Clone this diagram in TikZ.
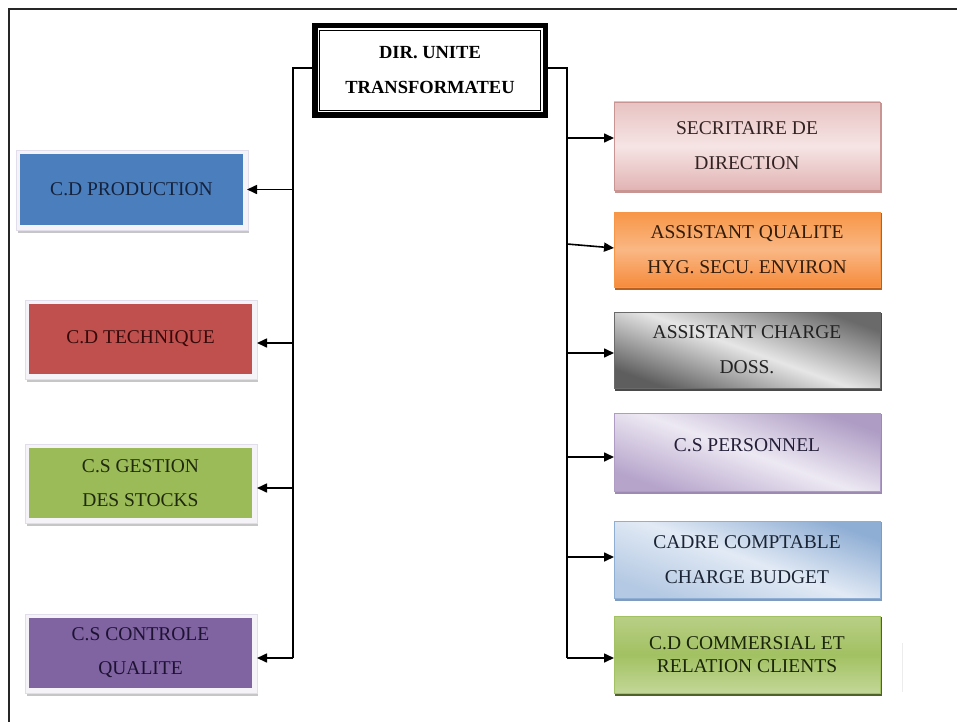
\documentclass[tikz,border=0pt]{standalone}
\usepackage{fontspec}
\setmainfont{Liberation Serif}
\usetikzlibrary{arrows.meta}
\pgfdeclarelayer{background}
\pgfsetlayers{background,main}
\definecolor{blueF}{HTML}{4A7EBC}
\definecolor{blueT}{HTML}{15223D}
\definecolor{redF}{HTML}{C0504D}
\definecolor{redT}{HTML}{360A0A}
\definecolor{greenF}{HTML}{9BBB59}
\definecolor{greenT}{HTML}{1F2A0C}
\definecolor{purpF}{HTML}{8064A2}
\definecolor{purpT}{HTML}{1E1233}
\definecolor{glow}{HTML}{F5F3F8}
\definecolor{glowedge}{HTML}{E2DDEA}
% right box colours
\definecolor{pinkA}{HTML}{E8C2C2}
\definecolor{pinkB}{HTML}{F6E4E4}
\definecolor{pinkC}{HTML}{E2B4B4}
\definecolor{pinkD}{HTML}{C99593}
\definecolor{pinkT}{HTML}{332222}
\definecolor{orA}{HTML}{F79646}
\definecolor{orB}{HTML}{FAB784}
\definecolor{orC}{HTML}{F68B3C}
\definecolor{orD}{HTML}{B8601F}
\definecolor{orT}{HTML}{331C0A}
\definecolor{grA}{HTML}{6A6A6A}
\definecolor{grB}{HTML}{E6E6E6}
\definecolor{grC}{HTML}{5E5E5E}
\definecolor{grD}{HTML}{4A4A4A}
\definecolor{grT}{HTML}{222222}
\definecolor{laA}{HTML}{AE9CC4}
\definecolor{laB}{HTML}{EDE9F3}
\definecolor{laC}{HTML}{B6A4CB}
\definecolor{laD}{HTML}{9C8AB2}
\definecolor{laT}{HTML}{241E38}
\definecolor{lbA}{HTML}{8FAED4}
\definecolor{lbB}{HTML}{E2EAF5}
\definecolor{lbC}{HTML}{B4C9E3}
\definecolor{lbD}{HTML}{7F9CC0}
\definecolor{lbT}{HTML}{1A2434}
\definecolor{gnA}{HTML}{B8CF86}
\definecolor{gnB}{HTML}{A2C162}
\definecolor{gnC}{HTML}{C2D797}
\definecolor{gnD}{HTML}{4F6228}
\definecolor{gnT}{HTML}{1A250A}
\begin{document}
\begin{tikzpicture}[x=1pt,y=-1pt,
  lbox/.style={minimum width=223pt,minimum height=70pt,inner sep=0pt,outer sep=0pt,align=center,font=\fontsize{19.5}{34}\selectfont},
  rbox/.style={minimum width=266pt,inner sep=0pt,outer sep=0pt,align=center,draw,line width=0.6pt,font=\fontsize{19.5}{35}\selectfont},
  bus/.style={line width=1.5pt,black},
  conn/.style={line width=1.6pt,black,-{Triangle[length=10pt,width=9pt]}},
  topbox/.style={draw,line width=5.5pt,minimum width=230.5pt,minimum height=89.5pt,inner sep=0pt,outer sep=0pt,align=center,font=\bfseries\fontsize{18.5}{35}\selectfont}]
\useasboundingbox (0,0) rectangle (957,722);
\begin{pgfonlayer}{background}
\fill[white] (0,0) rectangle (957,722);
\end{pgfonlayer}
% page frame
\draw[line width=2pt,black!85] (957,9) -- (9,9) -- (9,722);
\draw[gray!15,line width=1pt] (902,643) -- (902,692);

% top box
\node[topbox] (top) at (430,70.5) {DIR. UNITE\\TRANSFORMATEU};
\draw[line width=0.9pt] ([xshift=4.5pt,yshift=-5pt]top.north west) rectangle ([xshift=-4.5pt,yshift=5pt]top.south east);

% left boxes
\node[lbox,fill=blueF,text=blueT] (prod) at (131.5,189.5) {C.D PRODUCTION};
\node[lbox,fill=redF,text=redT] (tech) at (140.5,339) {C.D TECHNIQUE};
\node[lbox,fill=greenF,text=greenT] (gest) at (140.5,483) {C.S GESTION\\DES STOCKS};
\node[lbox,fill=purpF,text=purpT] (ctrl) at (140.5,653) {C.S CONTROLE\\QUALITE};

% right boxes
\node[rbox,minimum height=88pt,draw=pinkD,top color=pinkA,bottom color=pinkC,middle color=pinkB,text=pinkT] (sec) at (747,146) {SECRITAIRE DE\\DIRECTION};
\node[rbox,minimum height=75pt,draw=orA,top color=orA,bottom color=orC,middle color=orB,text=orT] (qual) at (747,249.5) {ASSISTANT QUALITE\\HYG. SECU. ENVIRON};
\node[rbox,minimum height=76pt,draw=grA,top color=grA,bottom color=grC,middle color=grB,shading angle=-20,text=grT] (charge) at (747,350) {ASSISTANT CHARGE\\DOSS.};
\node[rbox,minimum height=78pt,draw=laA,top color=laA,bottom color=laC,middle color=laB,shading angle=-20,text=laT,text depth=14pt] (pers) at (747,452) {C.S PERSONNEL};
\node[rbox,minimum height=77pt,draw=lbA,top color=lbA,bottom color=lbC,middle color=lbB,shading angle=-20,text=lbT] (cadre) at (747,559.5) {CADRE COMPTABLE\\CHARGE BUDGET};
\node[rbox,minimum height=77pt,draw=gnB,top color=gnA,bottom color=gnC,middle color=gnB,text=gnT,font=\fontsize{19.5}{23}\selectfont] (comm) at (747,654.5) {C.D COMMERSIAL ET\\RELATION CLIENTS};

% shadows and glows
\begin{pgfonlayer}{background}
\foreach \n in {prod,tech,gest,ctrl}{
  \fill[gray!45] ([xshift=-2pt,yshift=2pt]\n.north west) rectangle ([xshift=6pt,yshift=-8pt]\n.south east);
  \filldraw[fill=glow,draw=glowedge,line width=0.5pt] ([xshift=-4pt,yshift=4pt]\n.north west) rectangle ([xshift=5pt,yshift=-5.5pt]\n.south east);
}
\foreach \n/\c in {sec/pinkD,qual/orD,charge/grD,pers/laD,cadre/lbD,comm/gnD}{
  \fill[\c] ([xshift=1pt,yshift=-1pt]\n.north west) rectangle ([xshift=2pt,yshift=-2.5pt]\n.south east);
}
\end{pgfonlayer}

% buses
\coordinate (lb) at (293,658);
\coordinate (rb) at (567,658);
\draw[bus] ([yshift=2.5pt]top.west) -| (lb);
\draw[bus] ([yshift=2.5pt]top.east) -| (rb);

% left arrows
\draw[conn] (prod.east -| lb) -- ([xshift=4pt]prod.east);
\draw[conn] ([yshift=-4pt]tech.east -| lb) -- ([xshift=5pt,yshift=-4pt]tech.east);
\draw[conn] ([yshift=-5pt]gest.east -| lb) -- ([xshift=5pt,yshift=-5pt]gest.east);
\draw[conn] (lb) -- ([xshift=5pt,yshift=-5pt]ctrl.east);

% right arrows
\draw[conn] ([yshift=8pt]sec.west -| rb) -- ([yshift=8pt]sec.west);
\draw[conn] ([yshift=5.5pt]qual.west -| rb) -- ([yshift=1.5pt]qual.west);
\draw[conn] ([yshift=-3pt]charge.west -| rb) -- ([yshift=-3pt]charge.west);
\draw[conn] ([yshift=-5pt]pers.west -| rb) -- ([yshift=-5pt]pers.west);
\draw[conn] ([yshift=2.5pt]cadre.west -| rb) -- ([yshift=2.5pt]cadre.west);
\draw[conn] (rb) -- ([yshift=-3.5pt]comm.west);
\end{tikzpicture}
\end{document}
